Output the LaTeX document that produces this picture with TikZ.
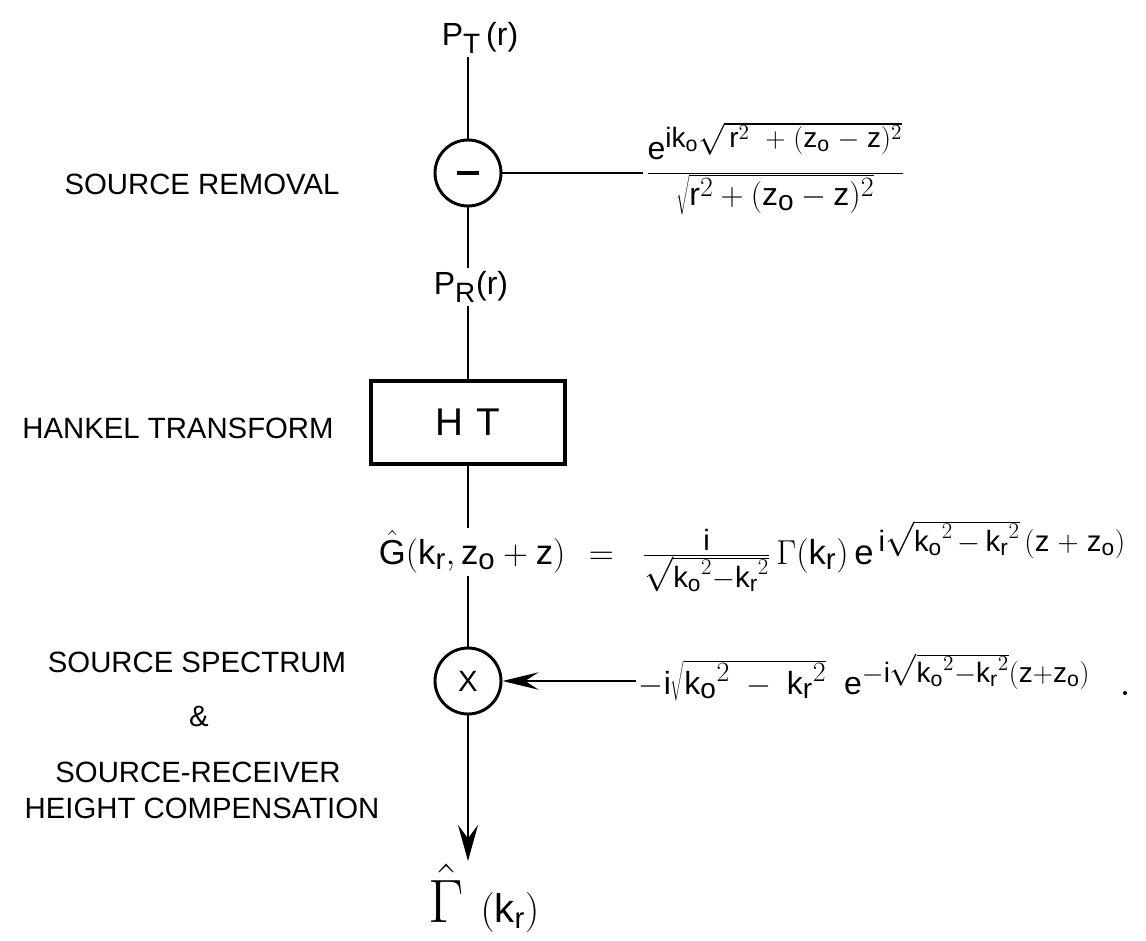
\RequirePackage{fix-cm}
\documentclass[tikz,border=0pt]{standalone}
\usepackage{fontspec}
\setmainfont{Liberation Sans}
\usetikzlibrary{arrows.meta}
\DeclareMathSizes{22}{22}{17}{14}
\DeclareMathSizes{24}{24}{21}{16}
\DeclareMathSizes{26}{26}{22}{17}
\DeclareMathSizes{30}{30}{22}{17}
\newcommand\fsz{\fontsize{22}{26}\selectfont}
\newcommand\fmz{\fontsize{24}{28}\selectfont}
\newcommand\fgz{\fontsize{26}{30}\selectfont}
\newcommand\rmm[1]{\mathrm{#1}}
\begin{document}
\begin{tikzpicture}[x=0.75pt,y=-0.75pt,
  every node/.style={font=\fsz, inner sep=2pt},
  formula/.style={font=\fmz, inner sep=2pt},
  gformula/.style={font=\fgz, inner sep=2pt},
  conn/.style={line width=1.9pt},
  sumnode/.style={draw, circle, line width=2.2pt, minimum size=49.5pt, inner sep=0pt},
  boxnode/.style={draw, line width=3pt, minimum width=146pt, minimum height=62pt},
  tipL/.style={-{Stealth[length=27pt,width=13pt,inset=10pt]}},
  tipD/.style={-{Stealth[length=27pt,width=15pt,inset=10pt]}}]

\path[use as bounding box] (0,0) rectangle (1146,941);

% main chain
\node[formula] (pt) at (480,38) {$\rmm{P_T}$\,(r)};
\node[sumnode] (minus) at (468,173) {\rule{16pt}{2.6pt}};
\node[formula, anchor=base west] (srcfrac) at (643,181)
  {$\displaystyle\frac{\rmm{e}^{\rmm{i}\rmm{k_o}\sqrt{\,\rmm{r}^2\;\;+\;(\rmm{z_o}\;-\;\rmm{z})^2}}}{\sqrt{\rmm{r}^2+(\rmm{z_o}-\rmm{z})^2}}$};
\node[formula] (pr) at (471,287) {$\rmm{P_R}$(r)};
\node[boxnode] (ht) at (468,422.5) {{\fontsize{29}{32}\selectfont H\,\,T}};
\node[gformula, anchor=base west] (g) at (376,564) {$\hat{\rmm{G}}(\rmm{k_r},\rmm{z_o}+\rmm{z})$};
\node[gformula, anchor=base west] (geq) at (586,564)
  {$=\;\;\frac{\rmm{i}}{\sqrt{\rmm{k_o}^2-\rmm{k_r}^2}}\,\Gamma(\rmm{k_r})\,\rmm{e}^{\,\rmm{i}\sqrt{\rmm{k_o}^2\,-\,\rmm{k_r}^2}\,(\rmm{z}\;+\;\rmm{z_o})}$};
\node[sumnode] (times) at (468,681) {X};
\node[formula, anchor=base west] (comp) at (636,694)
  {$-\rmm{i}\sqrt{\rmm{k_o}^2\;-\;\rmm{k_r}^2}\;\;\rmm{e}^{-\rmm{i}\sqrt{\rmm{k_o}^2-\rmm{k_r}^2}(\rmm{z+z_o})}$};
\node[anchor=base west] (gam) at (426,922) {{\fontsize{46}{50}\selectfont$\hat\Gamma$}\;\;{\fontsize{30}{34}\selectfont$(\rmm{k_r})$}};
\node[fill, circle, inner sep=0pt, minimum size=3pt] (speck) at (1125,693) {};

% left labels
\node (srclbl) at (202,184) {SOURCE REMOVAL};
\node (htlbl) at (178,428) {HANKEL TRANSFORM};
\node (ssp) at (197,662) {SOURCE SPECTRUM};
\node (amp) at (199,716) {\&};
\node (srr) at (198,772) {SOURCE-RECEIVER};
\node (hc) at (202,808) {HEIGHT COMPENSATION};

% connectors
\draw[conn] (pt.south -| minus) -- (minus);
\draw[conn] (minus) -- (srcfrac.west |- minus);
\draw[conn] (minus) -- (pr.north -| minus);
\draw[conn] (pr.south -| ht) -- (ht);
\draw[conn] (ht) -- (g.north -| ht);
\draw[conn] (g.south -| times) -- (times);
\draw[conn, tipL] (comp.west |- times) -- (times);
\draw[conn, tipD] (times) -- (gam.north -| times);
\end{tikzpicture}
\end{document}
